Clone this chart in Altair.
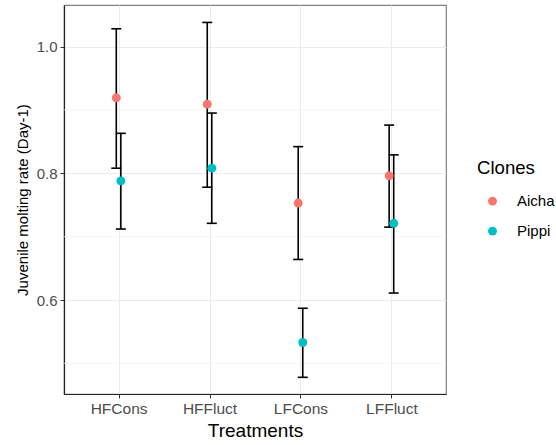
import altair as alt
import pandas as pd

# Treatment levels and clone estimates (mean with lower / upper interval)
treatments = ["HFCons", "HFFluct", "LFCons", "LFFluct"]
clones = ["Aicha", "Pippi"]

aicha_mean = [0.919, 0.909, 0.753, 0.796]
aicha_low = [0.808, 0.778, 0.664, 0.715]
aicha_high = [1.028, 1.038, 0.842, 0.876]

pippi_mean = [0.788, 0.808, 0.533, 0.721]
pippi_low = [0.712, 0.721, 0.478, 0.611]
pippi_high = [0.863, 0.895, 0.587, 0.829]

y_major = [0.6, 0.8, 1.0]
y_minor = [0.5, 0.7, 0.9]

dodge = {"Aicha": -0.025, "Pippi": 0.025}

rows = []
for clone, means, lows, highs in [
    ("Aicha", aicha_mean, aicha_low, aicha_high),
    ("Pippi", pippi_mean, pippi_low, pippi_high),
]:
    for i, t in enumerate(treatments):
        rows.append({
            "Treatment": t,
            "Clone": clone,
            "pos": i + dodge[clone],
            "mean": means[i],
            "low": lows[i],
            "high": highs[i],
        })
df = pd.DataFrame(rows)

label_expr = "[" + ",".join(f"'{t}'" for t in treatments) + "][round(datum.value)]"

x_scale = alt.Scale(domain=[-0.6, 3.6], nice=False, zero=False)
y_scale = alt.Scale(domain=[0.4517, 1.0655], nice=False, zero=False)

x_enc = alt.X(
    "pos:Q",
    scale=x_scale,
    axis=alt.Axis(
        title="Treatments",
        values=[0, 1, 2, 3],
        labelExpr=label_expr,
        grid=True,
        gridColor="#EBEBEB",
        gridWidth=1,
        labelFontSize=15.5,
        titleFontSize=19,
        titlePadding=5,
    ),
)
y_enc = alt.Y(
    "mean:Q",
    scale=y_scale,
    axis=alt.Axis(
        title="Juvenile molting rate (Day-1)",
        values=y_major,
        format=".1f",
        grid=True,
        gridColor="#EBEBEB",
        gridWidth=1,
        labelFontSize=15,
        titleFontSize=15,
        titlePadding=6,
    ),
)

base = alt.Chart(df)

minor_grid = alt.Chart(pd.DataFrame({"v": y_minor})).mark_rule(
    color="#F2F2F2", strokeWidth=0.7
).encode(y=alt.Y("v:Q", scale=y_scale))

bars = base.mark_rule(color="black", strokeWidth=1.6).encode(
    x=x_enc, y=alt.Y("low:Q", scale=y_scale), y2="high:Q"
)
caps_high = base.mark_rule(color="black", strokeWidth=1.6, xOffset=-5, x2Offset=5).encode(
    x=alt.X("pos:Q", scale=x_scale), x2="pos:Q", y=alt.Y("high:Q", scale=y_scale)
)
caps_low = base.mark_rule(color="black", strokeWidth=1.6, xOffset=-5, x2Offset=5).encode(
    x=alt.X("pos:Q", scale=x_scale), x2="pos:Q", y=alt.Y("low:Q", scale=y_scale)
)

points = base.mark_circle(size=80, opacity=1).encode(
    x=alt.X("pos:Q", scale=x_scale),
    y=y_enc,
    color=alt.Color(
        "Clone:N",
        scale=alt.Scale(domain=clones, range=["#F8766D", "#00BFC4"]),
        legend=alt.Legend(
            title="Clones",
            orient="none",
            legendX=413,
            legendY=154,
            titleFontSize=18.6,
            titleFontWeight="normal",
            titleColor="black",
            titlePadding=16,
            labelFontSize=15,
            labelColor="black",
            symbolSize=80,
            symbolType="circle",
            symbolOffset=8,
            labelOffset=17,
            rowPadding=14,
        ),
    ),
)

chart = (
    alt.layer(minor_grid, bars, caps_high, caps_low, points)
    .properties(
        width=382,
        height=389,
        autosize=alt.AutoSizeParams(type="none"),
        padding={"left": 64, "top": 5, "right": 110, "bottom": 51},
    )
    .configure(font="Liberation Sans")
    .configure_view(stroke="#7F7F7F", strokeWidth=1.2)
    .configure_axis(
        domainColor="#222222",
        domainWidth=1.2,
        tickColor="#333333",
        tickSize=4,
        labelColor="#4D4D4D",
        labelPadding=3,
        titleFontWeight="normal",
        titleColor="black",
    )
)

chart.save("out.html", embed_options={"renderer": "svg", "actions": False})
